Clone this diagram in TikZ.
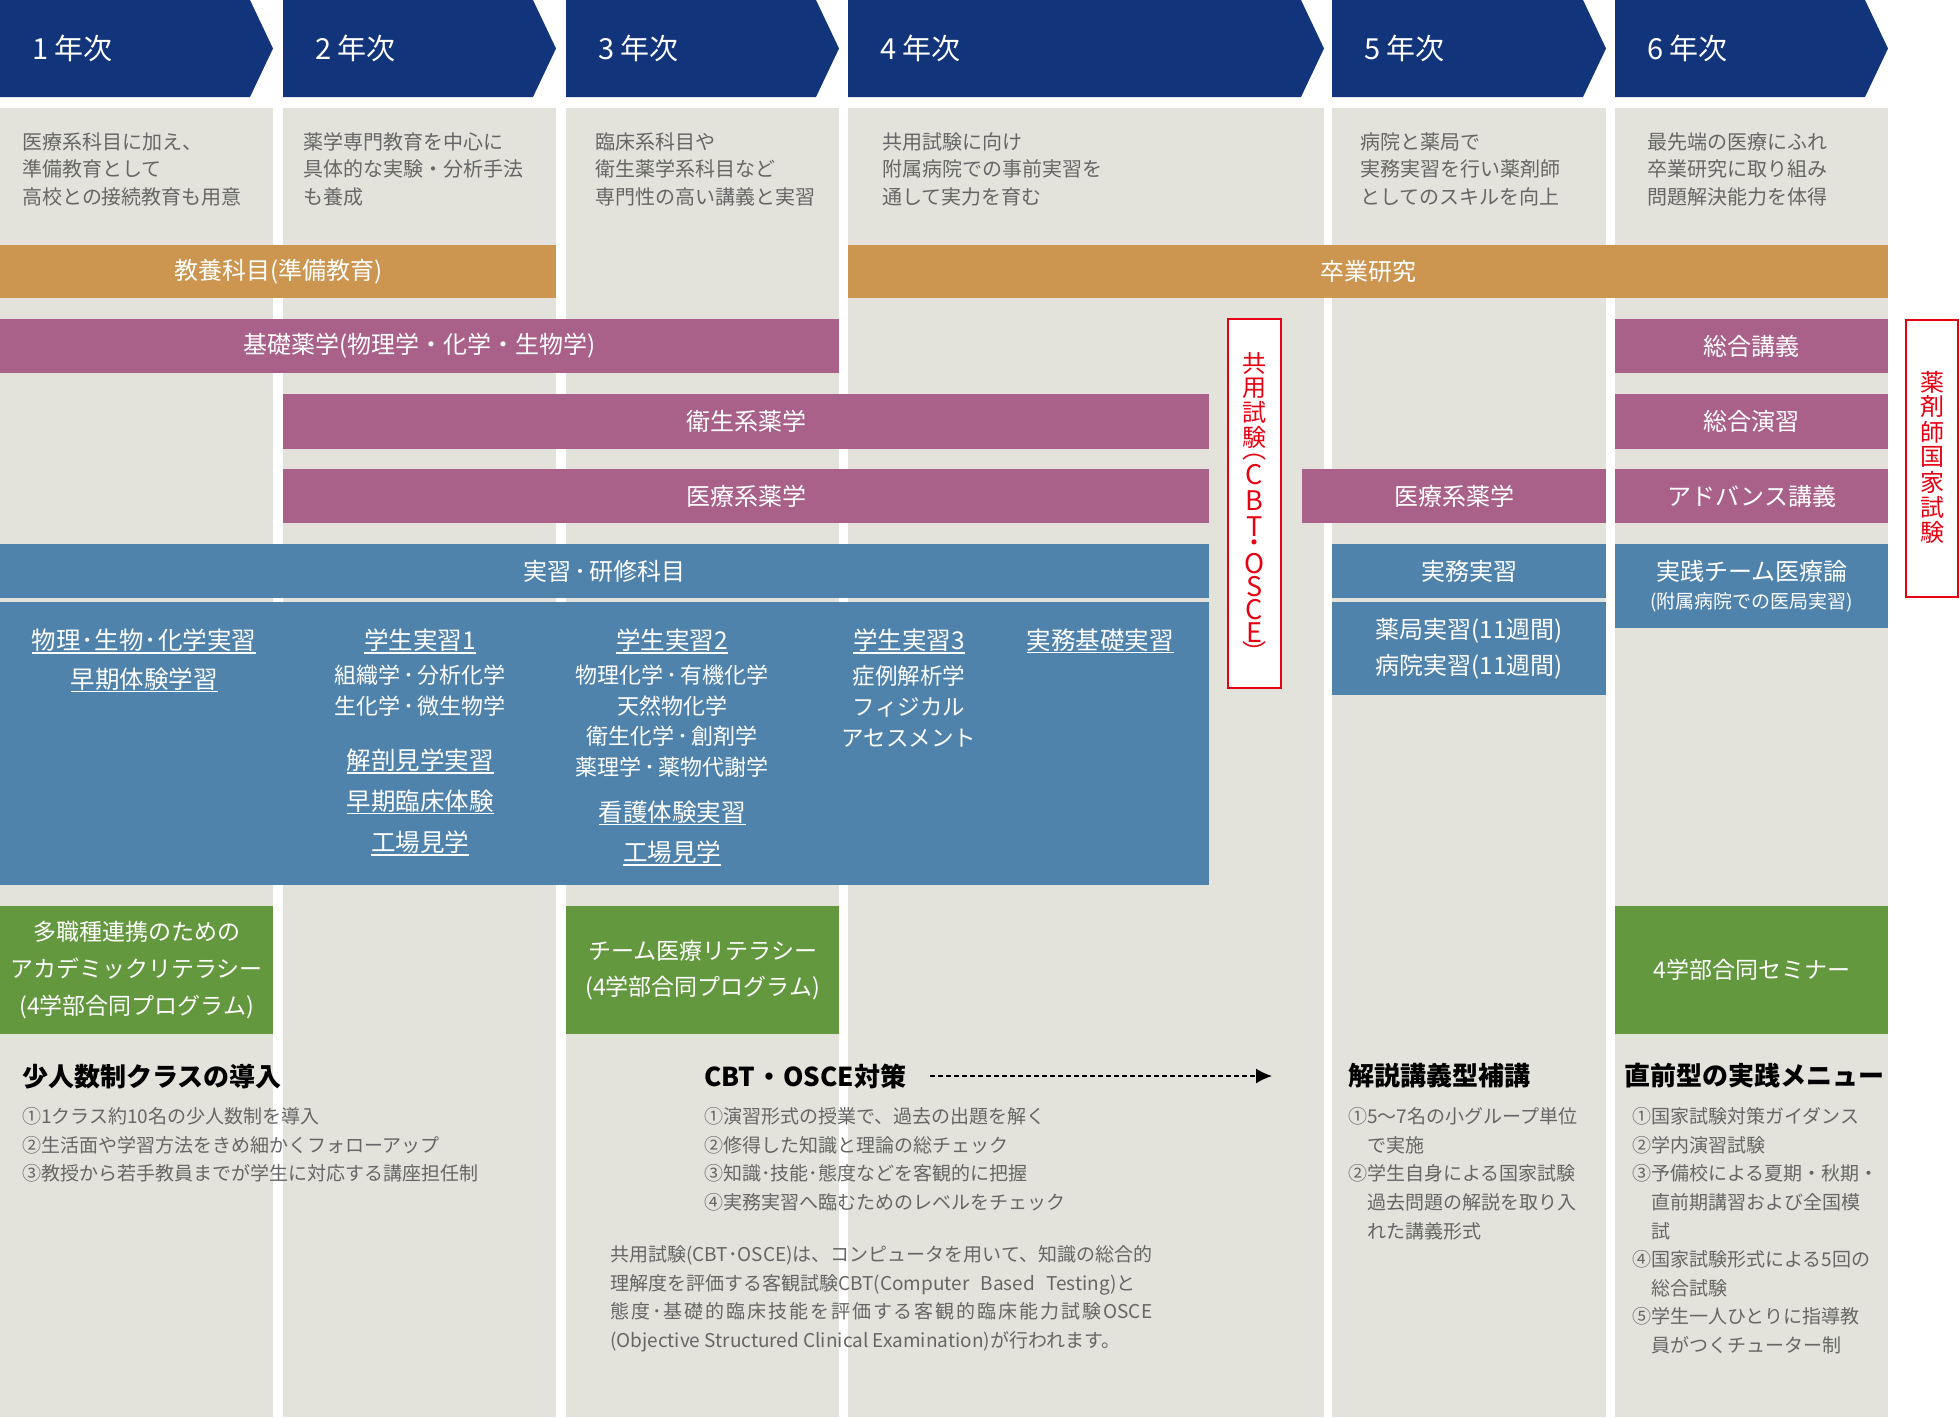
\documentclass[tikz,border=0pt]{standalone}
\usepackage{fontspec}
\setmainfont{Noto Sans CJK JP}
\usetikzlibrary{arrows.meta}

\definecolor{navy}{HTML}{12347A}
\definecolor{colbg}{HTML}{E3E3DB}
\definecolor{kyoyo}{HTML}{CC9650}
\definecolor{yaku}{HTML}{A9618A}
\definecolor{jisshu}{HTML}{5083AC}
\definecolor{renkei}{HTML}{63983F}
\definecolor{shiken}{HTML}{E60012}
\definecolor{note}{HTML}{666666}

\newcommand{\fs}[2]{\fontsize{#1pt}{#2pt}\selectfont}
\newcommand{\ulword}[1]{\setbox0=\hbox{#1}\rlap{\raisebox{-0.17em}[0pt][0pt]{\rule{\wd0}{1.3pt}}}\box0}
\newcommand{\mdot}[1][1pt]{\kern#1･\kern#1}
\makeatletter
\newcommand{\spreadtext}[2]{\makebox[#1][s]{\@tfor\@ch:=#2\do{\@ch\hfil}\unskip}}
\makeatother

\begin{document}
\begin{tikzpicture}[
    x=1pt, y=-1pt,
    bar/.style={anchor=north west, inner sep=0, text=white, align=center, font=\fs{24}{28}},
    yearlabel/.style={anchor=west, inner sep=0, text=white, font=\fs{29}{34}},
    desc/.style={anchor=north west, inner sep=0, text=note, align=left, font=\fs{20}{27.5}},
    course/.style={inner sep=0, text=white, align=center, font=\fs{24.5}{31}},
    heading/.style={anchor=west, inner sep=0, font=\fs{26}{30}\bfseries},
    item/.style={anchor=north west, inner sep=0, text=note, align=left, font=\fs{19}{28.6}},
    exam/.style={draw=shiken, line width=2pt, fill=white, inner sep=0},
    examchar/.style={inner sep=0, text=shiken, font=\fs{24}{24}}
  ]
  \useasboundingbox (0,0) rectangle (1960,1417);

  % Columns and year headers
  \foreach \n/\x/\w in {1/0/273, 2/283/273, 3/566/273, 4/848/476, 5/1332/274, 6/1615/273} {
    \fill[colbg] (\x,108) rectangle ++(\w,1309);
    \fill[navy] (\x,0) -- ++(\w-23,0) -- ++(23,48.5) -- ++(-23,48.5) -- (\x,97) -- cycle;
    \node[yearlabel] (year\n) at (\x+32,48.5) {\n\ 年次};
  }

  % Outlines
  \node[desc] (desc1) at (22,132) {医療系科目に加え、\\準備教育として\\高校との接続教育も用意};
  \node[desc] (desc2) at (303,132) {薬学専門教育を中心に\\具体的な実験・分析手法\\も養成};
  \node[desc] (desc3) at (595,132) {臨床系科目や\\衛生薬学系科目など\\専門性の高い講義と実習};
  \node[desc] (desc4) at (882,132) {共用試験に向け\\附属病院での事前実習を\\通して実力を育む};
  \node[desc] (desc5) at (1360,132) {病院と薬局で\\実務実習を行い薬剤師\\としてのスキルを向上};
  \node[desc] (desc6) at (1647,132) {最先端の医療にふれ\\卒業研究に取り組み\\問題解決能力を体得};

  % Subject bands
  \node[bar, fill=kyoyo, minimum width=556pt, minimum height=53pt] (kyoyo) at (0,245) {教養科目(準備教育)};
  \node[bar, fill=kyoyo, minimum width=1040pt, minimum height=53pt] (sotsuken) at (848,245) {卒業研究};
  \node[bar, fill=yaku, minimum width=839pt, minimum height=54pt] (kiso) at (0,319) {基礎薬学(物理学・化学・生物学)};
  \node[bar, fill=yaku, minimum width=926pt, minimum height=55pt] (eisei) at (283,394) {衛生系薬学};
  \node[bar, fill=yaku, minimum width=926pt, minimum height=54pt] (iryo) at (283,469) {医療系薬学};
  \node[bar, fill=yaku, minimum width=304pt, minimum height=54pt] (iryo5) at (1302,469) {医療系薬学};
  \node[bar, fill=yaku, minimum width=273pt, minimum height=54pt] (sogokogi) at (1615,319) {総合講義};
  \node[bar, fill=yaku, minimum width=273pt, minimum height=55pt] (sogoenshu) at (1615,394) {総合演習};
  \node[bar, fill=yaku, minimum width=273pt, minimum height=54pt] (advance) at (1615,469) {アドバンス講義};
  \node[bar, fill=jisshu, minimum width=1209pt, minimum height=54pt] (kenshu) at (0,544) {実習\mdot[3pt]研修科目};
  \node[bar, fill=jisshu, minimum width=274pt, minimum height=54pt] (jitsumu) at (1332,544) {実務実習};
  \node[bar, fill=jisshu, minimum width=274pt, minimum height=93pt, font=\fs{24}{36}] (gaibu) at (1332,602) {薬局実習(11週間)\\病院実習(11週間)};
  \node[bar, fill=jisshu, minimum width=273pt, minimum height=84pt, font=\fs{24}{32}] (team) at (1615,544) {実践チーム医療論\\[-4pt]{\fs{19}{24}(附属病院での医局実習)}};
  \node[bar, fill=jisshu, minimum width=1209pt, minimum height=283pt] (kamoku) at (0,602) {};

  % Practical courses
  \node[course] (butsuri) at (144,640) {\ulword{物理\mdot 生物\mdot 化学実習}};
  \node[course] (soki) at (144,679) {\ulword{早期体験学習}};
  \node[course] (gakusei1) at (420,640) {\ulword{学生実習1}};
  \node[course, font=\fs{22}{31}] (list1) at (420,690.5) {組織学\mdot[3pt]分析化学\\生化学\mdot[3pt]微生物学};
  \node[course] (kaibo) at (420,760) {\ulword{解剖見学実習}};
  \node[course] (rinsho) at (420,801) {\ulword{早期臨床体験}};
  \node[course] (kojo1) at (420,842) {\ulword{工場見学}};
  \node[course] (gakusei2) at (672,640) {\ulword{学生実習2}};
  \node[course, font=\fs{22}{30.7}] (list2) at (672,721) {物理化学\mdot[3pt]有機化学\\天然物化学\\衛生化学\mdot[3pt]創剤学\\薬理学\mdot[3pt]薬物代謝学};
  \node[course] (kango) at (672,812) {\ulword{看護体験実習}};
  \node[course] (kojo2) at (672,852) {\ulword{工場見学}};
  \node[course] (gakusei3) at (909,640) {\ulword{学生実習3}};
  \node[course, font=\fs{22.5}{31}] (list3) at (909,706) {症例解析学\\フィジカル\\アセスメント};
  \node[course] (jitsumukiso) at (1100,640) {\ulword{実務基礎実習}};

  % Examinations
  \node[exam, minimum width=53pt, minimum height=369pt] (kyoyoshiken) at (1254.5,503.5) {};
  \foreach \c/\y [count=\i] in {共/363, 用/388, 試/412, 験/437, ︵/457, ︶/651}
    \node[examchar] (kyoyochar\i) at (1254.5,\y) {\c};
  \foreach \c/\y [count=\i] in {C/475, B/501, T/527, O/564, S/587, C/610, E/633}
    \node[examchar, font=\fs{27}{27}] (cbtchar\i) at (1254.5,\y) {\c};
  \node[examchar] (cbtdot) at (1254.5,545.5) {・};
  \node[exam, minimum width=52pt, minimum height=277pt] (kokushi) at (1932,458.5) {};
  \foreach \c/\y [count=\i] in {薬/382, 剤/407, 師/432, 国/457, 家/482, 試/507, 験/532}
    \node[examchar] (kokushichar\i) at (1932,\y) {\c};

  % Joint programmes
  \node[bar, fill=renkei, minimum width=273pt, minimum height=128pt, font=\fs{23}{37}] (renkei1) at (0,906) {多職種連携のための\\アカデミックリテラシー\\(4学部合同プログラム)};
  \node[bar, fill=renkei, minimum width=273pt, minimum height=128pt, font=\fs{23}{36}] (renkei3) at (566,906) {チーム医療リテラシー\\(4学部合同プログラム)};
  \node[bar, fill=renkei, minimum width=273pt, minimum height=128pt, font=\fs{23}{28}] (seminar) at (1615,906) {4学部合同セミナー};

  % Support
  \node[heading] (shoninzu) at (22,1077) {少人数制クラスの導入};
  \node[item] (shoninzulist) at (22,1107.5) {①1クラス約10名の少人数制を導入\\②生活面や学習方法をきめ細かくフォローアップ\\③教授から若手教員までが学生に対応する講座担任制};
  \node[heading] (cbthead) at (704,1076) {CBT\kern1pt・\kern1pt OSCE対策};
  \coordinate (arrowend) at (1272,1076);
  \draw[line width=1.6pt, dash pattern=on 5pt off 3pt, -{Latex[length=16pt, width=15pt]}] ([xshift=24pt]cbthead.east) -- (arrowend);
  \node[item] (cbtlist) at (704,1107.5) {①演習形式の授業で、過去の出題を解く\\②修得した知識と理論の総チェック\\③知識･技能･態度などを客観的に把握\\④実務実習へ臨むためのレベルをチェック};
  \node[item, font=\fs{19}{28.5}] (cbtnote) at (610,1245.5) {共用試験(CBT･OSCE)は、コンピュータを用いて、知識の総合的\\理解度を評価する客観試験CBT(Computer\hspace{7pt} Based\hspace{7pt} Testing)と\\\spreadtext{542pt}{態度･基礎的臨床技能を評価する客観的臨床能力試験{OSCE}}\\(Objective Structured Clinical Examination)が行われます。};
  \node[heading] (kaisetsu) at (1348,1076) {解説講義型補講};
  \node[item] (kaisetsulist) at (1348,1107.5) {①5〜7名の小グループ単位\\\phantom{①}で実施\\②学生自身による国家試験\\\phantom{①}過去問題の解説を取り入\\\phantom{①}れた講義形式};
  \node[heading] (chokuzen) at (1624,1076) {直前型の実践メニュー};
  \node[item] (chokuzenlist) at (1632,1107.5) {①国家試験対策ガイダンス\\②学内演習試験\\③予備校による夏期・秋期・\\\phantom{①}直前期講習および全国模\\\phantom{①}試\\④国家試験形式による5回の\\\phantom{①}総合試験\\⑤学生一人ひとりに指導教\\\phantom{①}員がつくチューター制};
\end{tikzpicture}
\end{document}
